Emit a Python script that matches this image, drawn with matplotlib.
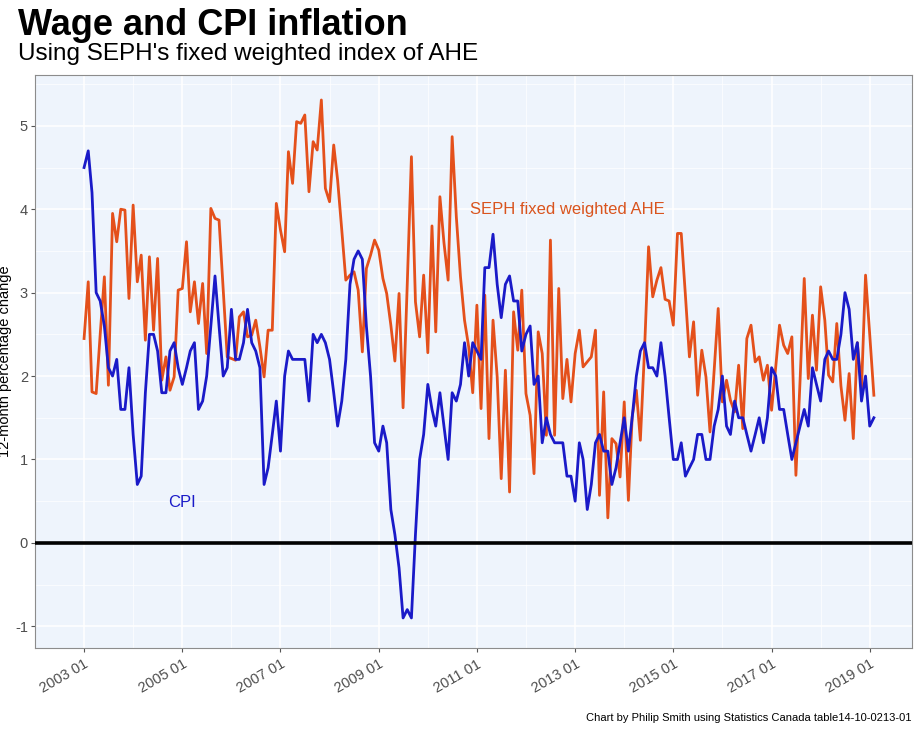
import matplotlib
matplotlib.use("Agg")
import matplotlib.pyplot as plt
import matplotlib.dates as mdates
from matplotlib.ticker import MultipleLocator
import pandas as pd

plt.rcParams['font.family'] = ['Liberation Sans', 'DejaVu Sans']
plt.rcParams['axes.unicode_minus'] = False

# monthly, 2003-01 .. 2019-02
months = pd.date_range("2003-01-01", periods=194, freq="MS")

# CPI, 12-month % change
cpi = [4.5, 4.7, 4.2, 3.0, 2.9, 2.6, 2.1, 2.0, 2.2, 1.6, 1.6, 2.1,
       1.3, 0.7, 0.8, 1.8, 2.5, 2.5, 2.3, 1.8, 1.8, 2.3, 2.4, 2.1,
       1.9, 2.1, 2.3, 2.4, 1.6, 1.7, 2.0, 2.6, 3.2, 2.6, 2.0, 2.1,
       2.8, 2.2, 2.2, 2.4, 2.8, 2.4, 2.3, 2.1, 0.7, 0.9, 1.3, 1.7,
       1.1, 2.0, 2.3, 2.2, 2.2, 2.2, 2.2, 1.7, 2.5, 2.4, 2.5, 2.4,
       2.2, 1.8, 1.4, 1.7, 2.2, 3.1, 3.4, 3.5, 3.4, 2.6, 2.0, 1.2,
       1.1, 1.4, 1.2, 0.4, 0.1, -0.3, -0.9, -0.8, -0.9, 0.1, 1.0, 1.3,
       1.9, 1.6, 1.4, 1.8, 1.4, 1.0, 1.8, 1.7, 1.9, 2.4, 2.0, 2.4,
       2.3, 2.2, 3.3, 3.3, 3.7, 3.1, 2.7, 3.1, 3.2, 2.9, 2.9, 2.3,
       2.5, 2.6, 1.9, 2.0, 1.2, 1.5, 1.3, 1.2, 1.2, 1.2, 0.8, 0.8,
       0.5, 1.2, 1.0, 0.4, 0.7, 1.2, 1.3, 1.1, 1.1, 0.7, 0.9, 1.2,
       1.5, 1.1, 1.5, 2.0, 2.3, 2.4, 2.1, 2.1, 2.0, 2.4, 2.0, 1.5,
       1.0, 1.0, 1.2, 0.8, 0.9, 1.0, 1.3, 1.3, 1.0, 1.0, 1.4, 1.6,
       2.0, 1.4, 1.3, 1.7, 1.5, 1.5, 1.3, 1.1, 1.3, 1.5, 1.2, 1.5,
       2.1, 2.0, 1.6, 1.6, 1.3, 1.0, 1.2, 1.4, 1.6, 1.4, 2.1, 1.9,
       1.7, 2.2, 2.3, 2.2, 2.2, 2.5, 3.0, 2.8, 2.2, 2.4, 1.7, 2.0,
       1.4, 1.5]

# SEPH fixed weighted average hourly earnings, 12-month % change
ahe = [2.45, 3.13, 1.81, 1.79, 2.50, 3.19, 1.89, 3.95, 3.61, 4.00, 3.99, 2.93,
       4.05, 3.13, 3.45, 2.43, 3.43, 2.55, 3.41, 1.95, 2.23, 1.83, 1.99, 3.03,
       3.05, 3.61, 2.77, 3.13, 2.63, 3.11, 2.27, 4.01, 3.89, 3.87, 3.03, 2.23,
       2.21, 2.19, 2.71, 2.77, 2.47, 2.49, 2.67, 2.35, 1.99, 2.55, 2.55, 4.07,
       3.75, 3.49, 4.69, 4.31, 5.05, 5.03, 5.13, 4.21, 4.81, 4.71, 5.31, 4.25,
       4.09, 4.77, 4.35, 3.75, 3.15, 3.21, 3.25, 3.03, 2.29, 3.29, 3.45, 3.63,
       3.51, 3.17, 2.99, 2.61, 2.18, 2.99, 1.62, 3.10, 4.63, 2.89, 2.47, 3.21,
       2.28, 3.80, 2.53, 4.15, 3.60, 3.15, 4.87, 3.91, 3.19, 2.67, 2.35, 1.80,
       2.85, 1.61, 2.97, 1.25, 2.67, 1.99, 0.77, 2.07, 0.61, 2.77, 2.31, 3.03,
       1.79, 1.53, 0.83, 2.53, 2.27, 1.29, 3.63, 1.29, 3.05, 1.73, 2.20, 1.69,
       2.27, 2.55, 2.11, 2.17, 2.23, 2.55, 0.57, 1.81, 0.30, 1.25, 1.19, 0.79,
       1.69, 0.51, 1.51, 1.83, 1.23, 2.31, 3.55, 2.95, 3.15, 3.30, 2.92, 2.90,
       2.61, 3.71, 3.71, 2.97, 2.23, 2.65, 1.77, 2.31, 1.99, 1.33, 2.07, 2.81,
       1.69, 1.95, 1.71, 1.57, 2.13, 1.37, 2.45, 2.61, 2.17, 2.23, 1.95, 2.13,
       1.59, 2.11, 2.61, 2.37, 2.27, 2.47, 0.81, 1.95, 3.17, 1.97, 2.73, 2.07,
       3.07, 2.67, 2.01, 1.93, 2.63, 1.88, 1.47, 2.03, 1.25, 2.40, 1.85, 3.21,
       2.50, 1.77]

tick_dates = pd.date_range("2003-01-01", "2019-01-01", freq="24MS")
minor_dates = pd.date_range("2002-01-01", "2019-01-01", freq="24MS")

blue = "#1a1ac8"
orange = "#e4501b"

fig = plt.figure(figsize=(9.21, 7.37), dpi=100)
ax = fig.add_axes([0.038, 0.1208, 0.952, 0.7775])
ax.set_facecolor("#eef4fc")

ax.plot(months, ahe, color=orange, lw=2.0, zorder=3)
ax.plot(months, cpi, color=blue, lw=2.0, zorder=3)
ax.axhline(0, color="black", lw=2.6, zorder=4)

ax.set_xlim(pd.Timestamp("2002-01-01"), pd.Timestamp("2019-11-10"))
ax.set_ylim(-1.26, 5.61)

ax.set_xticks(tick_dates)
ax.set_xticks(minor_dates, minor=True)
ax.xaxis.set_major_formatter(mdates.DateFormatter("%Y %m"))
ax.yaxis.set_major_locator(MultipleLocator(1))
ax.yaxis.set_minor_locator(MultipleLocator(0.5))

ax.grid(which="major", color="white", lw=1.1)
ax.grid(which="minor", color="white", lw=0.5)
ax.set_axisbelow(True)

for s in ax.spines.values():
    s.set_color("#8c8c8c")
    s.set_linewidth(0.8)

ax.tick_params(which="major", length=3, color="#555555", labelsize=10.5,
               labelcolor="#4d4d4d")
ax.tick_params(axis="y", pad=2)
ax.tick_params(which="minor", length=0)
plt.setp(ax.get_xticklabels(), rotation=30, ha="right", rotation_mode="anchor")

ax.set_ylabel("12-month percentage change", fontsize=10.5)
ax.yaxis.set_label_coords(-0.026, 0.5)

ax.text(pd.Timestamp("2005-01-01"), 0.49, "CPI", color=blue, fontsize=12,
        ha="center", va="center")
ax.text(pd.Timestamp("2012-11-01"), 4.0, "SEPH fixed weighted AHE",
        color="#d9541e", fontsize=12, ha="center", va="center")

fig.text(0.0195, 0.953, "Wage and CPI inflation", fontsize=26,
         fontweight="bold", va="baseline")
fig.text(0.0195, 0.918, "Using SEPH's fixed weighted index of AHE",
         fontsize=17.5, va="baseline")
fig.text(0.99, 0.022, "Chart by Philip Smith using Statistics Canada table14-10-0213-01",
         fontsize=8, ha="right", va="baseline")

fig.savefig("out.png", dpi=100)
